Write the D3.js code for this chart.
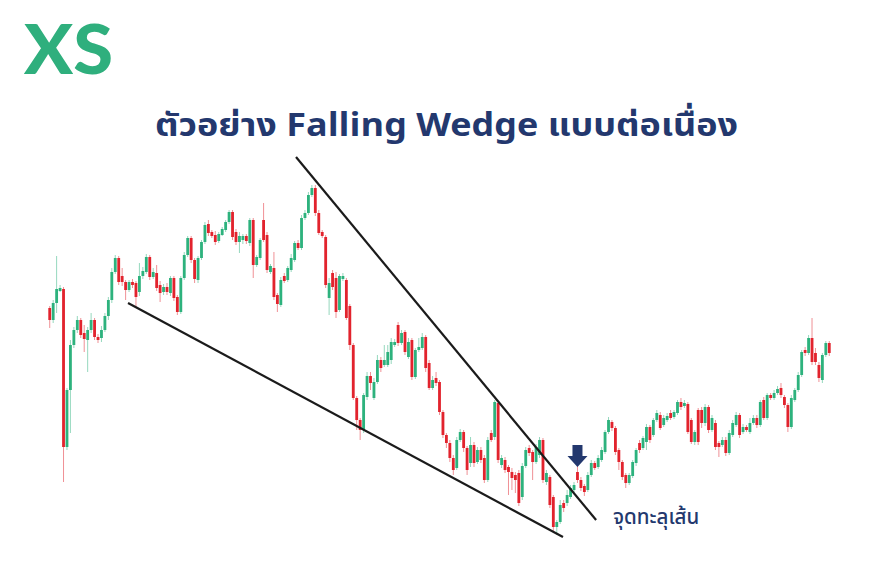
<!DOCTYPE html>
<html><head><meta charset="utf-8">
<script src="https://cdn.jsdelivr.net/npm/d3@7"></script>
<style>html,body{margin:0;padding:0;background:#fff;}svg{display:block;}</style>
</head><body>
<svg id="chart" width="879" height="561"></svg>
<script>
// ---- data (price units) ----
const opens = [292,280,297,309,311,153,210,255,270,280,267,260,270,280,263,262,270,284,300,328,342,324,318,310,318,317,308,324,328,343,323,327,315,308,313,307,322,303,288,322,345,362,340,320,342,358,376,368,365,359,365,370,378,388,368,358,360,364,357,380,335,342,380,365,328,332,305,295,324,320,330,340,357,352,382,387,405,412,387,368,363,302,327,322,290,321,320,294,255,202,180,170,203,224,202,218,240,235,235,240,255,275,257,268,243,260,223,250,252,263,237,212,222,218,188,165,157,142,132,160,168,152,137,155,138,150,142,120,167,163,197,135,140,133,128,125,127,103,134,152,148,138,145,160,118,123,103,73,78,97,97,103,110,128,120,114,110,125,137,133,140,148,168,178,172,150,138,125,117,124,137,157,152,158,173,165,180,185,175,180,187,183,187,198,194,196,180,158,190,190,177,193,170,177,157,155,160,147,165,175,185,168,173,168,177,182,175,200,182,205,202,207,212,203,195,173,200,210,225,250,247,262,247,235,220,245,257];
const highs = [294,300,344,315,313,212,260,273,284,282,275,273,287,282,266,274,287,303,332,345,344,332,320,320,321,319,337,333,346,345,332,335,319,316,317,324,324,305,324,348,364,364,342,344,360,378,380,370,369,368,373,380,390,390,371,368,366,366,382,382,345,362,397,368,336,348,307,323,327,334,346,359,360,385,390,408,415,415,390,370,365,322,330,328,326,327,322,296,257,204,182,207,228,228,222,245,243,255,255,262,261,278,270,270,262,262,252,262,267,265,240,224,228,220,190,167,160,145,163,171,170,154,163,158,153,153,145,163,170,200,199,145,143,135,132,128,130,137,153,155,150,156,163,162,130,125,105,80,100,100,110,115,118,134,123,116,128,140,139,145,153,170,183,180,174,152,140,127,127,140,152,160,164,176,175,182,190,188,185,187,190,190,200,202,200,198,182,170,192,193,196,195,185,180,159,163,163,170,180,188,187,176,175,182,185,185,200,203,207,207,210,214,217,205,197,205,212,228,250,253,265,282,252,238,247,259,259];
const lows = [272,277,287,308,118,150,167,252,267,262,248,228,267,260,257,258,268,280,297,326,315,314,300,308,312,293,304,321,326,320,321,309,298,305,305,304,299,285,286,320,343,337,317,317,340,356,364,362,355,357,364,368,376,360,355,347,356,356,354,322,333,340,358,327,326,300,288,293,317,318,328,338,350,350,380,385,403,384,365,362,312,285,310,282,288,319,280,250,200,170,160,167,200,210,200,216,228,233,233,236,253,254,255,245,241,220,221,248,250,228,210,210,214,185,162,152,138,125,130,158,148,125,133,133,136,137,117,118,158,160,137,132,127,105,110,107,94,100,132,144,120,136,142,117,115,92,68,65,76,88,94,101,108,117,109,104,108,123,130,131,138,146,166,169,145,130,120,112,115,122,134,147,150,150,157,163,178,170,173,178,180,181,185,190,192,166,156,155,155,172,174,167,168,150,143,153,144,145,163,173,162,166,168,166,175,172,173,180,180,200,200,205,202,192,168,171,198,208,223,244,245,235,235,218,217,243,244];
const closes = [280,297,311,312,153,210,255,270,280,265,261,270,280,263,260,270,284,300,328,342,318,318,310,318,315,303,324,329,343,323,328,312,307,313,308,322,302,288,322,345,362,340,321,342,358,375,367,364,358,366,371,378,388,363,358,364,364,359,380,335,343,360,360,330,334,303,296,320,319,332,342,357,352,382,387,405,412,387,367,364,315,317,313,288,324,324,282,255,202,180,170,205,224,217,218,240,232,240,248,258,258,257,267,248,258,223,250,253,263,232,212,220,217,188,165,157,142,130,160,168,152,130,155,137,150,140,120,160,160,198,140,142,130,128,122,120,97,134,150,147,138,153,160,120,127,95,73,78,95,92,105,112,115,120,112,108,125,137,132,142,150,168,180,172,148,138,123,117,125,138,150,150,162,173,160,180,187,172,182,184,182,188,198,193,197,168,158,168,158,177,193,170,182,153,153,160,147,167,177,185,165,173,170,177,182,175,198,182,205,202,207,211,205,195,173,202,210,225,248,247,262,238,238,222,245,257,247];
// trend lines: [candle index, price]
const upperLine = [[71.4, 443], [158.4, 80]];
const lowerLine = [[22.7, 297], [148.8, 63]];
const breakoutIndex = 153;
const titleText = "ตัวอย่าง Falling Wedge แบบต่อเนื่อง";
const labelText = "จุดทะลุเส้น";

const N = closes.length;
const svg = d3.select("#chart");
const x = d3.scaleLinear().domain([-0.5, N - 0.5]).range([48, 831]);
const y = d3.scaleLinear().domain([60, 420]).range([540, 180]);
const step = x(1) - x(0);
const bw = step * 0.82;
const GREEN = "#2db27d", RED = "#e2232d", NAVY = "#23386e";

// logo
svg.append("text").attr("x", 24).attr("y", 74)
  .attr("font-family", "Lato, 'Noto Sans', sans-serif").attr("font-weight", 900)
  .attr("font-size", 68).attr("fill", "#2faf7d")
  .attr("textLength", 89).attr("lengthAdjust", "spacingAndGlyphs")
  .text("XS");

// title
svg.append("text").attr("x", 155).attr("y", 136)
  .attr("font-family", "'Noto Sans Thai', 'Noto Sans', sans-serif").attr("font-weight", 700)
  .attr("font-size", 32).attr("fill", NAVY)
  .attr("textLength", 583).attr("lengthAdjust", "spacingAndGlyphs")
  .text(titleText);

const data = d3.range(N).map(i => ({i, o: opens[i], h: highs[i], l: lows[i], c: closes[i]}));
const g = svg.append("g");
g.selectAll("line.wick").data(data).join("line")
  .attr("x1", d => x(d.i)).attr("x2", d => x(d.i))
  .attr("y1", d => y(d.h)).attr("y2", d => y(d.l))
  .attr("stroke", d => d.c >= d.o ? GREEN : RED).attr("stroke-opacity", 0.5).attr("stroke-width", 1);
g.selectAll("rect.body").data(data).join("rect")
  .attr("x", d => x(d.i) - bw / 2).attr("width", bw)
  .attr("y", d => y(Math.max(d.o, d.c)))
  .attr("height", d => Math.max(1.2, Math.abs(y(d.o) - y(d.c))))
  .attr("fill", d => d.c >= d.o ? GREEN : RED);

// trend lines
const line = d3.line().x(d => x(d[0])).y(d => y(d[1]));
[upperLine, lowerLine].forEach(L => {
  svg.append("path").attr("d", line(L)).attr("stroke", "#1b1b1b").attr("stroke-width", 2.2).attr("fill", "none");
});

// breakout arrow
const ax = x(breakoutIndex), ay = y(highs[breakoutIndex]) + 1;
svg.append("path")
  .attr("d", `M${ax-5},${ay-22} L${ax+5},${ay-22} L${ax+5},${ay-11} L${ax+10},${ay-11} L${ax},${ay} L${ax-10},${ay-11} L${ax-5},${ay-11} Z`)
  .attr("fill", NAVY);

svg.append("text").attr("x", 613).attr("y", 524)
  .attr("font-family", "'Noto Sans Thai', 'Noto Sans', sans-serif").attr("font-weight", 500)
  .attr("font-size", 20.5).attr("fill", NAVY).text(labelText);
</script>
</body></html>
